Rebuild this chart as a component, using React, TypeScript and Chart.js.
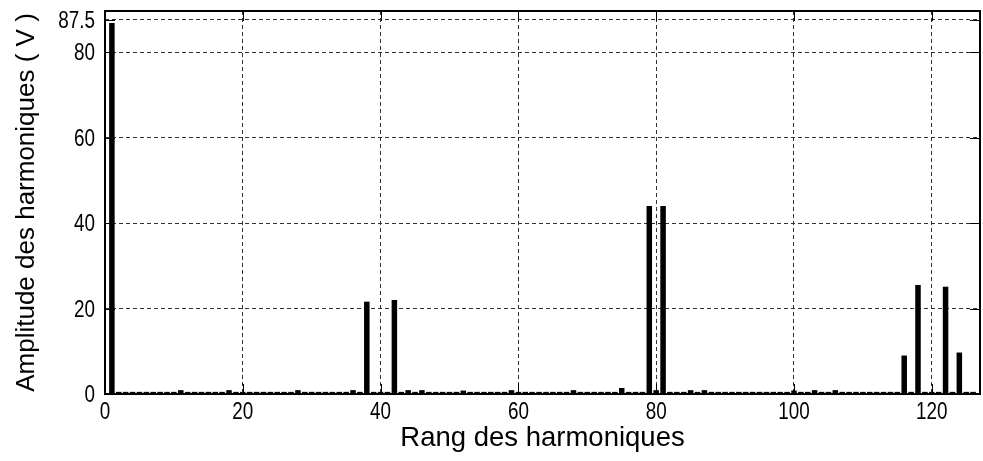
import { useEffect, useRef } from "react";
import { Chart, registerables } from "chart.js";

Chart.register(...registerables);

// Harmonic ranks (x) and amplitudes in volts (y)
const harmonics = [
  1, 2, 3, 4, 5, 6, 7, 8, 9, 10,
  11, 12, 13, 14, 15, 16, 17, 18, 19, 20,
  21, 22, 23, 24, 25, 26, 27, 28, 29, 30,
  31, 32, 33, 34, 35, 36, 37, 38, 39, 40,
  41, 42, 43, 44, 45, 46, 47, 48, 49, 50,
  51, 52, 53, 54, 55, 56, 57, 58, 59, 60,
  61, 62, 63, 64, 65, 66, 67, 68, 69, 70,
  71, 72, 73, 74, 75, 76, 77, 78, 79, 80,
  81, 82, 83, 84, 85, 86, 87, 88, 89, 90,
  91, 92, 93, 94, 95, 96, 97, 98, 99, 100,
  101, 102, 103, 104, 105, 106, 107, 108, 109, 110,
  111, 112, 113, 114, 115, 116, 117, 118, 119, 120,
  121, 122, 123, 124, 125, 126,
];

const amplitudes = [
  86.8, 0.5, 0.5, 0.5, 0.5, 0.5, 0.5, 0.5, 0.5, 0.5,
  0.9, 0.5, 0.5, 0.5, 0.5, 0.5, 0.5, 0.9, 0.5, 0.5,
  0.5, 0.5, 0.5, 0.5, 0.5, 0.5, 0.5, 0.9, 0.5, 0.5,
  0.5, 0.5, 0.5, 0.5, 0.5, 0.9, 0.5, 21.6, 0.5, 0.5,
  0.5, 22.0, 0.5, 0.9, 0.5, 0.9, 0.5, 0.5, 0.5, 0.5,
  0.5, 0.8, 0.5, 0.5, 0.5, 0.5, 0.5, 0.5, 0.9, 0.5,
  0.5, 0.5, 0.5, 0.5, 0.5, 0.5, 0.5, 0.9, 0.5, 0.5,
  0.5, 0.5, 0.5, 0.5, 1.4, 0.5, 0.5, 0.5, 44.0, 0.9,
  44.0, 0.5, 0.5, 0.5, 0.9, 0.5, 0.9, 0.5, 0.5, 0.5,
  0.5, 0.5, 0.5, 0.5, 0.5, 0.5, 0.5, 0.5, 0.5, 0.8,
  0.5, 0.5, 0.9, 0.5, 0.5, 0.9, 0.5, 0.5, 0.5, 0.5,
  0.5, 0.5, 0.5, 0.5, 0.5, 9.0, 0.5, 25.5, 0.5, 0.5,
  0.5, 25.1, 0.5, 9.7, 0.5, 0.5,
];

const xTicks = [0, 20, 40, 60, 80, 100, 120];
const yTicks = [0, 20, 40, 60, 80, 87.5];

const X_MIN = 0;
const X_MAX = 127;
const Y_MIN = 0;
const Y_MAX = 89.6;

const xTitle = "Rang des harmoniques";
const yTitle = "Amplitude des harmoniques ( V )";

const tickFont = '"Liberation Sans", Arial, sans-serif';
const titleFont = '"Liberation Sans", Arial, sans-serif';

const framePlugin = {
  id: "matlabFrame",
  afterDraw(chart: any) {
    const { ctx, chartArea, scales } = chart;
    const { left, right, top, bottom } = chartArea;
    const x = scales.x;
    const y = scales.y;
    ctx.save();
    ctx.strokeStyle = "#000";
    ctx.lineWidth = 1;
    ctx.setLineDash([]);
    ctx.beginPath();
    xTicks.forEach((v) => {
      const px = Math.round(x.getPixelForValue(v)) + 0.5;
      ctx.moveTo(px, bottom);
      ctx.lineTo(px, bottom - 10);
      ctx.moveTo(px, top);
      ctx.lineTo(px, top + 10);
    });
    yTicks.forEach((v) => {
      const py = Math.round(y.getPixelForValue(v)) + 0.5;
      ctx.moveTo(left, py);
      ctx.lineTo(left + 10, py);
      ctx.moveTo(right, py);
      ctx.lineTo(right - 10, py);
    });
    ctx.stroke();
    ctx.lineWidth = 2;
    ctx.strokeRect(left, top, right - left, bottom - top);

    // condensed tick labels (MATLAB-like)
    ctx.fillStyle = "#000";
    ctx.font = `23px ${tickFont}`;
    ctx.textBaseline = "alphabetic";
    xTicks.forEach((v) => {
      const px = x.getPixelForValue(v);
      ctx.save();
      ctx.translate(px, bottom + 25);
      ctx.scale(0.82, 1);
      ctx.textAlign = "center";
      ctx.fillText(String(v), 0, 0);
      ctx.restore();
    });
    yTicks.forEach((v) => {
      const py = y.getPixelForValue(v);
      ctx.save();
      ctx.translate(left - 10, py + 8);
      ctx.scale(0.82, 1);
      ctx.textAlign = "right";
      ctx.fillText(String(v), 0, 0);
      ctx.restore();
    });
    ctx.restore();
  },
};

export default function App() {
  const canvasRef = useRef<HTMLCanvasElement | null>(null);

  useEffect(() => {
    if (!canvasRef.current) return;
    const chart = new Chart(canvasRef.current, {
      type: "bar",
      data: {
        datasets: [
          {
            data: harmonics.map((h, i) => ({ x: h, y: amplitudes[i] })),
            backgroundColor: "#000",
            borderWidth: 0,
            barPercentage: 0.8,
            categoryPercentage: 1,
          },
        ],
      },
      options: {
        responsive: false,
        devicePixelRatio: 1,
        animation: false,
        layout: { padding: { top: 11, right: 3, left: 0, bottom: 0 } },
        plugins: {
          legend: { display: false },
          tooltip: { enabled: false },
        },
        scales: {
          x: {
            type: "linear",
            min: X_MIN,
            max: X_MAX,
            offset: false,
            afterBuildTicks: (scale: any) => {
              scale.ticks = xTicks.map((v) => ({ value: v }));
            },
            afterFit: (scale: any) => {
              scale.height = 67;
              scale.paddingLeft = 0;
              scale.paddingRight = 0;
            },
            grid: {
              offset: false,
              color: "#333",
              lineWidth: 1,
              drawTicks: false,
            },
            border: { display: false, dash: [4, 3] },
            ticks: { display: false },
            title: {
              display: true,
              text: xTitle,
              color: "#000",
              font: { family: titleFont, size: 27.5 },
              padding: { top: 0, bottom: 6 },
            },
          },
          y: {
            type: "linear",
            min: Y_MIN,
            max: Y_MAX,
            afterBuildTicks: (scale: any) => {
              scale.ticks = yTicks.map((v) => ({ value: v }));
            },
            afterFit: (scale: any) => {
              scale.width = 105;
              scale.paddingTop = 0;
              scale.paddingBottom = 0;
            },
            grid: {
              color: "#333",
              lineWidth: 1,
              drawTicks: false,
            },
            border: { display: false, dash: [4, 3] },
            ticks: { display: false },
            title: {
              display: true,
              text: yTitle,
              color: "#000",
              font: { family: titleFont, size: 26 },
              padding: { top: 11, bottom: 0 },
            },
          },
        },
      },
      plugins: [framePlugin],
    });
    return () => chart.destroy();
  }, []);

  return (
    <div style={{ position: "absolute", left: 0, top: 0, width: 983, height: 461, background: "#fff" }}>
      <canvas ref={canvasRef} width={983} height={461} style={{ display: "block" }} />
    </div>
  );
}
